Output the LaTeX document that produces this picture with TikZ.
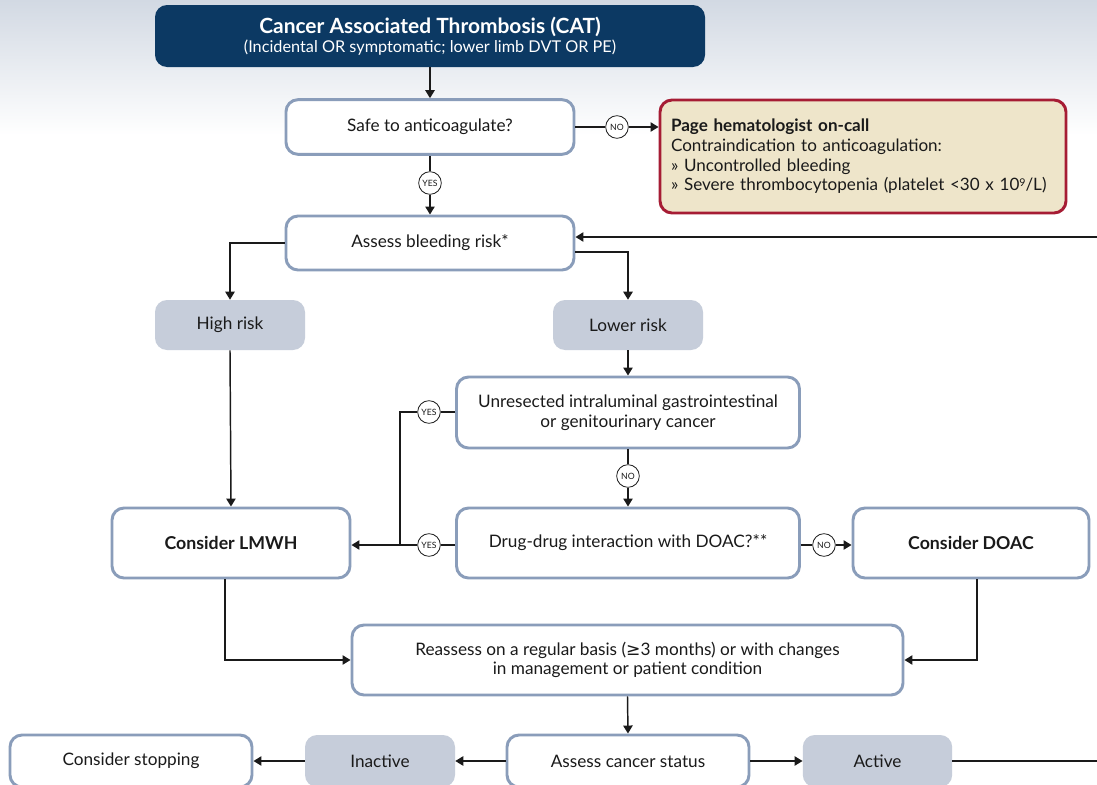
\documentclass[tikz,border=0pt]{standalone}
\usepackage{fontspec}
\setmainfont{Lato}
\newfontfamily\symfont{DejaVu Sans}
\usetikzlibrary{arrows.meta}

\definecolor{navy}{HTML}{0C3963}
\definecolor{boxblue}{HTML}{8A9DBA}
\definecolor{riskgray}{HTML}{C6CDDA}
\definecolor{alertfill}{HTML}{EEE5CA}
\definecolor{alertred}{HTML}{A61C34}
\definecolor{skytop}{HTML}{D2D9E3}
\definecolor{ink}{HTML}{1A1A1A}

\tikzset{
  stepbox/.style={draw=boxblue, line width=2.2pt, rounded corners=9pt, fill=white,
    align=center, inner sep=2pt, text=ink, font=\fontsize{12.9}{14.8}\selectfont},
  riskbox/.style={fill=riskgray, rounded corners=9pt, align=center, inner sep=2pt,
    text=ink, font=\fontsize{12.9}{14.8}\selectfont},
  answer/.style={circle, draw=ink, line width=0.6pt, fill=white, minimum size=17pt,
    inner sep=0pt, text=ink, font=\fontsize{6.5}{7}\selectfont},
  link/.style={draw=ink, line width=1.1pt},
  arrow/.style={link, -{Triangle[length=6pt,width=7pt]}},
}

\begin{document}
\begin{tikzpicture}[x=0.75pt,y=-0.75pt]
  \clip (0,0) rectangle (1097,785);
  % page background: pale blue band fading to white
  \fill[white] (0,0) rectangle (1097,785);
  \shade[top color=skytop, bottom color=white] (0,0) rectangle (1097,135);

  % title banner
  \node[fill=navy, rounded corners=9pt, minimum width=412.5pt, minimum height=46.5pt,
        text=white, align=center, inner sep=0pt] (cat) at (430,36)
    {{\fontsize{15.7}{18}\selectfont\bfseries Cancer Associated Thrombosis (CAT)}\\[2pt]
     {\fontsize{12.2}{14}\selectfont (Incidental OR symptomatic; lower limb DVT OR PE)}};

  % decision chain
  \node[stepbox, minimum width=216pt, minimum height=41pt] (safe) at (430,127) {Safe to anticoagulate?};
  \node[draw=alertred, fill=alertfill, line width=2.2pt, rounded corners=9pt,
        text width=288pt, inner xsep=8.25pt, minimum height=84.75pt, align=left,
        text=ink, font=\fontsize{12.8}{14.7}\selectfont] (page) at (863,156.5)
    {\textbf{Page hematologist on-call}\\
     Contraindication to anticoagulation:\\
     » Uncontrolled bleeding\\
     » Severe thrombocytopenia (platelet <30 x 10{\fontsize{8}{8}\selectfont\raisebox{3.2pt}{9}}/L)};
  \node[answer] (no1) at (617,127) {NO};
  \node[answer] (yes1) at (430,183) {YES};

  \node[stepbox, minimum width=216pt, minimum height=40.5pt] (bleed) at (430,243) {Assess bleeding risk*};
  \node[riskbox, minimum width=112.5pt, minimum height=37.5pt] (high) at (230,325) {High risk};
  \node[riskbox, minimum width=112.5pt, minimum height=37.5pt] (low) at (628,325) {Lower risk};

  \node[stepbox, minimum width=257.25pt, minimum height=53.25pt] (unres) at (628,412.5)
    {Unresected intraluminal gastrointestinal\\or genitourinary cancer};
  \node[answer] (no2) at (628,476) {NO};
  \node[stepbox, minimum width=257.25pt, minimum height=52.5pt] (ddi) at (628,543)
    {Drug-drug interaction with DOAC?**};
  \node[stepbox, minimum width=178.5pt, minimum height=52.5pt, font=\fontsize{13.3}{15}\selectfont\bfseries] (lmwh) at (231,543) {Consider LMWH};
  \node[stepbox, minimum width=177pt, minimum height=52.5pt, font=\fontsize{13.3}{15}\selectfont\bfseries] (doac) at (971,543) {Consider DOAC};
  \node[answer] (yes2) at (429,412) {YES};
  \node[answer] (yes3) at (429,545) {YES};
  \node[answer] (no3) at (824,545) {NO};

  \node[stepbox, minimum width=413.25pt, minimum height=52.5pt] (reas) at (627.5,660)
    {Reassess on a regular basis ({\symfont ≥}3 months) or with changes\\in management or patient condition};

  % cancer status row
  \node[stepbox, minimum width=181.5pt, minimum height=39pt] (status) at (628,761) {Assess cancer status};
  \node[riskbox, minimum width=112.5pt, minimum height=39pt] (inact) at (380,761) {Inactive};
  \node[riskbox, minimum width=112pt, minimum height=39pt] (act) at (877.5,761) {Active};
  \node[stepbox, minimum width=181.5pt, minimum height=39pt] (stop) at (131,761) {Consider stopping};

  % helper coordinates
  \coordinate (lowout) at (0,252);
  \coordinate (loopin) at (0,237);
  \coordinate (joinx) at (400,0);
  \coordinate (loopa) at (1115,761);
  \coordinate (loopb) at (1115,237);

  % connectors
  \draw[arrow] (cat.south) -- (safe.north);
  \draw[link] (safe.east |- no1) -- (no1.west);
  \draw[arrow] (no1.east) -- (no1.east -| page.west);
  \draw[link] (safe.south) -- (yes1.north);
  \draw[arrow] (yes1.south) -- (bleed.north);

  \draw[arrow] (bleed.west) -| (high.north);
  \draw[arrow] (bleed.east |- lowout) -| (low.north);
  \draw[arrow] (act.east) -- (loopa) -- (loopb) -- (bleed.east |- loopin);

  \draw[arrow] (low.south) -- (unres.north);
  \draw[link] (unres.south) -- (no2.north);
  \draw[arrow] (no2.south) -- (ddi.north);
  \draw[link] (unres.west |- yes2) -- (yes2.east);
  \draw[link] (yes2.west) -- (yes2 -| joinx) -- (yes3 -| joinx);
  \draw[link] (ddi.west |- yes3) -- (yes3.east);
  \draw[arrow] (yes3.west) -- (yes3 -| lmwh.east);
  \draw[arrow] (high.south) -- (lmwh.north);
  \draw[link] (ddi.east |- no3) -- (no3.west);
  \draw[arrow] (no3.east) -- (no3 -| doac.west);

  \draw[arrow] ([xshift=-4.5pt]lmwh.south) |- (reas.west);
  \draw[arrow] ([xshift=4.5pt]doac.south) |- (reas.east);
  \draw[arrow] (reas.south) -- (status.north);

  \draw[arrow] (status.west) -- (inact.east);
  \draw[arrow] (inact.west) -- (stop.east);
  \draw[arrow] (status.east) -- (act.west);
\end{tikzpicture}
\end{document}
